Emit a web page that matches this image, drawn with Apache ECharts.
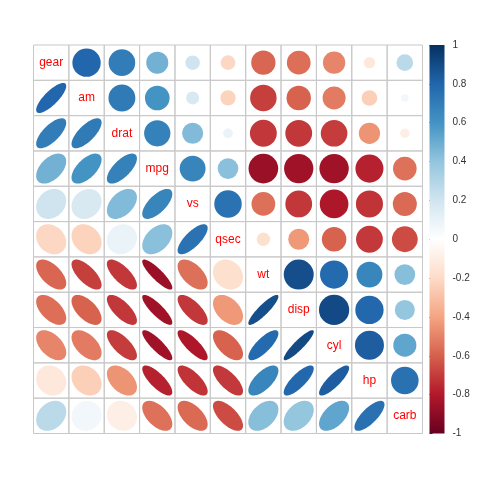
<!DOCTYPE html>
<html><head><meta charset="utf-8">
<script src="https://cdn.jsdelivr.net/npm/echarts@6/dist/echarts.min.js"></script>
<style>html,body{margin:0;padding:0;background:#fff}#c{width:480px;height:480px}</style>
</head><body><div id="c"></div>
<script>
const variables = ["gear","am","drat","mpg","vs","qsec","wt","disp","cyl","hp","carb"];
const r_gear = [1, 0.794, 0.700, 0.480, 0.206, -0.213, -0.583, -0.556, -0.493, -0.126, 0.274];
const r_am   = [0.794, 1, 0.713, 0.600, 0.168, -0.230, -0.692, -0.591, -0.523, -0.243, 0.058];
const r_drat = [0.700, 0.713, 1, 0.681, 0.440, 0.091, -0.712, -0.710, -0.700, -0.449, -0.091];
const r_mpg  = [0.480, 0.600, 0.681, 1, 0.664, 0.419, -0.868, -0.848, -0.852, -0.776, -0.551];
const r_vs   = [0.206, 0.168, 0.440, 0.664, 1, 0.745, -0.555, -0.710, -0.811, -0.723, -0.570];
const r_qsec = [-0.213, -0.230, 0.091, 0.419, 0.745, 1, -0.175, -0.434, -0.591, -0.708, -0.656];
const r_wt   = [-0.583, -0.692, -0.712, -0.868, -0.555, -0.175, 1, 0.888, 0.782, 0.659, 0.428];
const r_disp = [-0.556, -0.591, -0.710, -0.848, -0.710, -0.434, 0.888, 1, 0.902, 0.791, 0.395];
const r_cyl  = [-0.493, -0.523, -0.700, -0.852, -0.811, -0.591, 0.782, 0.902, 1, 0.832, 0.527];
const r_hp   = [-0.126, -0.243, -0.449, -0.776, -0.723, -0.708, 0.659, 0.791, 0.832, 1, 0.750];
const r_carb = [0.274, 0.058, -0.091, -0.551, -0.570, -0.656, 0.428, 0.395, 0.527, 0.750, 1];
const corr = [r_gear, r_am, r_drat, r_mpg, r_vs, r_qsec, r_wt, r_disp, r_cyl, r_hp, r_carb];
const palette = ["#67001F","#B2182B","#D6604D","#F4A582","#FDDBC7","#FFFFFF","#D1E5F0","#92C5DE","#4393C3","#2166AC","#053061"];

const cells = [];
for (let i = 0; i < variables.length; i++) {
  for (let j = 0; j < variables.length; j++) {
    cells.push([j, i, corr[i][j], j > i ? 0 : (j < i ? 1 : 2)]);
  }
}

function renderCell(params, api) {
  const x = api.value(0), y = api.value(1), r = api.value(2), t = api.value(3);
  const c = api.coord([x, y]);
  const s = api.size([1, 1]);
  const w = s[0], h = s[1];
  const color = api.visual('color');
  const children = [{
    type: 'rect',
    shape: {x: c[0] - w / 2, y: c[1] - h / 2, width: w, height: h},
    style: {fill: 'none', stroke: '#c8c8c8', lineWidth: 1},
    z2: 0
  }];
  if (t === 0) {
    children.push({
      type: 'circle',
      shape: {cx: c[0], cy: c[1], r: 0.45 * Math.sqrt(Math.abs(r)) * w},
      style: {fill: color},
      z2: 1
    });
  } else if (t === 1) {
    const pts = [];
    const a = Math.acos(r) / 2;
    const n = 99;
    for (let k = 0; k < n; k++) {
      const th = 2 * Math.PI * k / (n - 1);
      pts.push([c[0] + Math.cos(th + a) / 2 * 0.85 * w, c[1] - Math.cos(th - a) / 2 * 0.85 * h]);
    }
    children.push({type: 'polygon', shape: {points: pts}, style: {fill: color}, z2: 1});
  } else {
    children.push({
      type: 'text',
      style: {text: variables[x], x: c[0], y: c[1], align: 'center', verticalAlign: 'middle',
        fill: '#FF0000', font: '12px "Liberation Sans", Arial, sans-serif'},
      z2: 2
    });
  }
  return {type: 'group', children: children};
}

function renderBar(params, api) {
  const tl = api.coord([0, 1]);
  const br = api.coord([1, -1]);
  const stops = palette.map((col, i) => ({offset: i / (palette.length - 1), color: col}));
  return {
    type: 'rect',
    shape: {x: tl[0], y: tl[1], width: br[0] - tl[0], height: br[1] - tl[1]},
    style: {fill: new echarts.graphic.LinearGradient(0, 1, 0, 0, stops)}
  };
}

const chart = echarts.init(document.getElementById('c'), null, {renderer: 'canvas'});
chart.setOption({
  animation: false,
  backgroundColor: '#fff',
  grid: [
    {left: 33.5, top: 45, width: 389, height: 388.5},
    {left: 429.5, top: 45, width: 15, height: 388.5}
  ],
  xAxis: [
    {type: 'category', data: variables, gridIndex: 0, show: false},
    {type: 'value', gridIndex: 1, min: 0, max: 1, show: false}
  ],
  yAxis: [
    {type: 'category', data: variables, inverse: true, gridIndex: 0, show: false},
    {type: 'value', gridIndex: 1, min: -1, max: 1, interval: 0.2, position: 'right',
      axisLine: {show: false},
      axisTick: {show: true, length: 3, lineStyle: {color: '#333'}},
      splitLine: {show: false},
      axisLabel: {margin: 8, fontSize: 10, color: '#333', fontFamily: '"Liberation Sans", Arial, sans-serif'}}
  ],
  visualMap: {show: false, type: 'continuous', min: -1, max: 1, dimension: 2, seriesIndex: 0,
    inRange: {color: palette}},
  series: [
    {type: 'custom', xAxisIndex: 0, yAxisIndex: 0, data: cells, renderItem: renderCell,
      encode: {x: 0, y: 1}},
    {type: 'custom', xAxisIndex: 1, yAxisIndex: 1, data: [[0, -1]], renderItem: renderBar,
      encode: {x: 0, y: 1}}
  ]
});
</script></body></html>
